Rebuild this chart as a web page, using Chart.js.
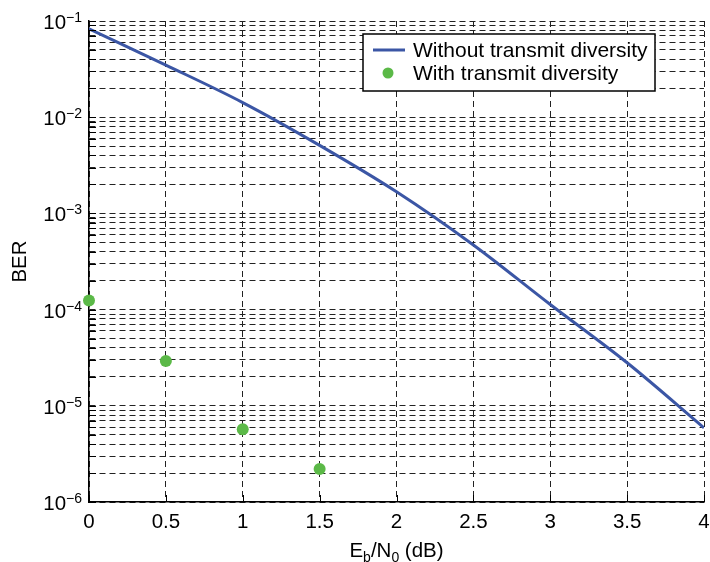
<!DOCTYPE html>
<html>
<head>
<meta charset="utf-8">
<style>
  html, body { margin: 0; padding: 0; background: #fff; }
  #wrap { width: 710px; height: 562px; }
</style>
</head>
<body>
<div id="wrap"><canvas id="myChart" width="710" height="562"></canvas></div>
<script src="https://cdn.jsdelivr.net/npm/chart.js@4.4.0/dist/chart.umd.min.js"></script>
<script>
// data
var ebn0 = [0, 0.5, 1, 1.5, 2, 2.5, 3, 3.5, 4];
var berWithout = [0.083, 0.0348, 0.0142, 0.0051, 0.00168, 0.00047, 0.000113, 0.000028, 0.0000059];
var ebn0Div = [0, 0.5, 1, 1.5];
var berWith = [0.000124, 0.0000292, 0.0000057, 0.0000022];
var decades = [-6, -5, -4, -3, -2, -1];

var FONT = '"Liberation Sans", Arial, sans-serif';
var blue = "#3b56a5";
var green = "#5bb947";

// grid at 1..9 x 10^k
var yGrid = [];
decades.forEach(function (e) {
  for (var m = 1; m <= 9; m++) {
    if (e == -1 && m > 1) break;
    yGrid.push(m * Math.pow(10, e));
  }
});

var extras = {
  id: "extras",
  afterDraw: function (chart) {
    var ctx = chart.ctx;
    var area = chart.chartArea;
    var xs = chart.scales.x;
    var ys = chart.scales.y;
    ctx.save();

    // inward tick marks
    ctx.strokeStyle = "#000";
    ctx.lineWidth = 1;
    ctx.beginPath();
    yGrid.forEach(function (v) {
      var py = Math.round(ys.getPixelForValue(v)) + 0.5;
      ctx.moveTo(area.left, py);
      ctx.lineTo(area.left + 7, py);
    });
    xs.ticks.forEach(function (t) {
      var px = Math.round(xs.getPixelForValue(t.value)) + 0.5;
      ctx.moveTo(px, area.bottom);
      ctx.lineTo(px, area.bottom - 7);
    });
    ctx.stroke();

    // y tick labels 10^k
    ctx.fillStyle = "#000";
    ctx.textAlign = "right";
    ctx.textBaseline = "alphabetic";
    decades.forEach(function (e) {
      var py = ys.getPixelForValue(Math.pow(10, e));
      var sup = "\u2212" + Math.abs(e);
      ctx.font = "14px " + FONT;
      var sw = ctx.measureText(sup).width;
      ctx.fillText(sup, area.left - 7, py + 1);
      ctx.font = "20.5px " + FONT;
      ctx.fillText("10", area.left - 7 - sw, py + 8);
    });

    // y title
    ctx.save();
    ctx.translate(20, (area.top + area.bottom) / 2);
    ctx.rotate(-Math.PI / 2);
    ctx.textAlign = "center";
    ctx.textBaseline = "middle";
    ctx.font = "20.5px " + FONT;
    ctx.fillText("BER", 0, 0);
    ctx.restore();

    // x title with subscripts
    var parts = [
      ["E", 20.5, 0],
      ["b", 14, 5],
      ["/N", 20.5, 0],
      ["0", 14, 5],
      [" (dB)", 20.5, 0],
    ];
    var total = 0;
    parts.forEach(function (p) {
      ctx.font = p[1] + "px " + FONT;
      p.push(ctx.measureText(p[0]).width);
      total += p[3];
    });
    var cx = (area.left + area.right) / 2 - total / 2;
    ctx.textAlign = "left";
    parts.forEach(function (p) {
      ctx.font = p[1] + "px " + FONT;
      ctx.fillText(p[0], cx, 557 + p[2]);
      cx += p[3];
    });

    // legend box
    var bw = 292, bh = 57;
    var bx = area.right - 49 - bw;
    var by = area.top + 13;
    ctx.fillStyle = "#fff";
    ctx.fillRect(bx, by, bw, bh);
    ctx.strokeStyle = "#000";
    ctx.lineWidth = 1.5;
    ctx.strokeRect(bx, by, bw, bh);
    var ds = chart.data.datasets;
    ctx.strokeStyle = ds[0].borderColor;
    ctx.lineWidth = 3;
    ctx.beginPath();
    ctx.moveTo(bx + 10, by + 16);
    ctx.lineTo(bx + 42, by + 16);
    ctx.stroke();
    ctx.fillStyle = ds[1].backgroundColor;
    ctx.beginPath();
    ctx.arc(bx + 25, by + 39, 5.5, 0, Math.PI * 2);
    ctx.fill();
    ctx.fillStyle = "#000";
    ctx.font = "21px " + FONT;
    ctx.textBaseline = "middle";
    ctx.fillText(ds[0].label, bx + 50, by + 17);
    ctx.fillText(ds[1].label, bx + 50, by + 40);

    ctx.restore();
  },
};

var ctx = document.getElementById("myChart");
new Chart(ctx, {
  type: "line",
  data: {
    datasets: [
      {
        label: "Without transmit diversity",
        data: ebn0.map(function (x, i) { return { x: x, y: berWithout[i] }; }),
        borderColor: blue,
        backgroundColor: blue,
        borderWidth: 3,
        pointRadius: 0,
        cubicInterpolationMode: "monotone",
        fill: false,
      },
      {
        label: "With transmit diversity",
        data: ebn0Div.map(function (x, i) { return { x: x, y: berWith[i] }; }),
        showLine: false,
        backgroundColor: green,
        borderColor: green,
        borderWidth: 0,
        pointRadius: 6,
        clip: false,
      },
    ],
  },
  options: {
    responsive: false,
    animation: false,
    layout: { padding: { top: 21, right: 4, left: 0, bottom: 0 } },
    plugins: {
      legend: { display: false },
      tooltip: { enabled: false },
    },
    scales: {
      x: {
        type: "linear",
        min: 0,
        max: 4,
        ticks: {
          stepSize: 0.5,
          color: "#000",
          padding: 8,
          maxRotation: 0,
          font: { size: 20.5, family: FONT },
          callback: function (v) {
            return String(+v.toFixed(1));
          },
        },
        grid: { color: "#222", lineWidth: 1, drawTicks: false },
        border: { display: true, color: "#000", width: 1.5, dash: [6, 4] },
        afterFit: function (s) {
          s.height = 60;
          s.paddingLeft = 0;
          s.paddingRight = 0;
        },
      },
      y: {
        type: "logarithmic",
        min: 1e-6,
        max: 1e-1,
        ticks: { display: false },
        afterBuildTicks: function (s) {
          s.ticks = yGrid.map(function (v) { return { value: v }; });
        },
        grid: { color: "#222", lineWidth: 1, drawTicks: false },
        border: { display: true, color: "#000", width: 1.5, dash: [6, 4] },
        afterFit: function (s) {
          s.width = 89;
        },
      },
    },
  },
  plugins: [extras],
});
</script>
</body>
</html>
